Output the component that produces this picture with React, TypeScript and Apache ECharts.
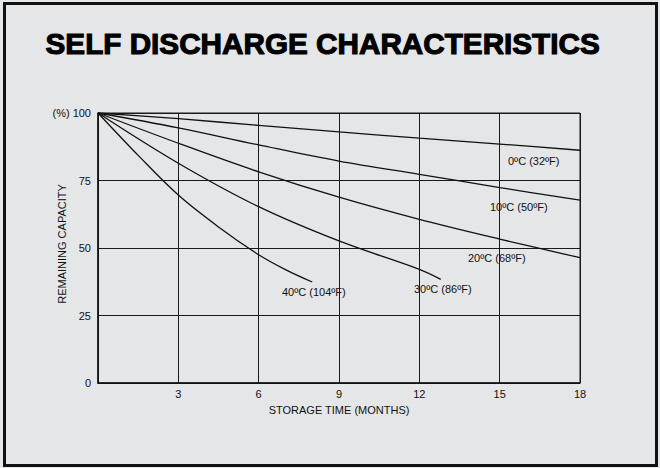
import React, { useEffect, useRef } from "react";
import * as echarts from "echarts";

const xTicks = [0, 3, 6, 9, 12, 15, 18];
const yTicks = [0, 25, 50, 75, 100];

const months0 = [0, 3, 6, 9, 12, 15, 18];
const cap0 = [100, 97.9, 95.4, 93.0, 90.7, 88.5, 86.2];
const months10 = [0, 3, 6, 9, 12, 15, 18];
const cap10 = [100, 94.5, 88.2, 82.2, 77.3, 72.4, 67.7];
const months20 = [0, 3, 6, 9, 12, 15, 18];
const cap20 = [100, 88.8, 78.2, 68.8, 60.6, 53.3, 46.4];
const months30 = [0, 3, 6, 9, 12, 12.8];
const cap30 = [100, 81.4, 65.3, 52.6, 42.1, 38.4];
const months40 = [0, 1.5, 3, 4.5, 6, 7, 8];
const cap40 = [100, 84.3, 69.6, 57.8, 47.5, 42, 37.4];

const seriesNames = ["0ºC (32ºF)", "10ºC (50ºF)", "20ºC (68ºF)", "30ºC (86ºF)", "40ºC (104ºF)"];
const seriesMonths = [months0, months10, months20, months30, months40];
const seriesCaps = [cap0, cap10, cap20, cap30, cap40];
// label anchor positions (pixels: left, vertical centre)
const labelPos = [
  [508, 161],
  [490, 207],
  [468, 258],
  [414, 289],
  [282, 292],
];

const FONT = "'Liberation Sans', Arial, Helvetica, sans-serif";

export default function App() {
  const ref = useRef<HTMLDivElement>(null);
  useEffect(() => {
    if (!ref.current) return;
    const chart = echarts.init(ref.current, null, { renderer: "svg" });
    const option: any = {
      animation: false,
      backgroundColor: "#e5e6e8",
      textStyle: { fontFamily: FONT },
      grid: {
        left: 98,
        right: 80,
        top: 113,
        bottom: 85,
        show: true,
        borderColor: "#1a1a1a",
        borderWidth: 1,
        backgroundColor: "transparent",
      },
      xAxis: {
        type: "value",
        min: xTicks[0],
        max: xTicks[xTicks.length - 1],
        interval: 3,
        name: "STORAGE TIME (MONTHS)",
        nameLocation: "middle",
        nameGap: 21,
        nameTextStyle: { fontSize: 11, color: "#111", fontFamily: FONT },
        axisLine: { show: true, lineStyle: { color: "#111", width: 1.5 } },
        axisTick: { show: false },
        axisLabel: {
          margin: 5,
          fontSize: 11,
          color: "#111",
          fontFamily: FONT,
          formatter: (v: number) => (v === 0 ? "" : String(v)),
        },
        splitLine: { show: true, lineStyle: { color: "#1a1a1a", width: 1 } },
      },
      yAxis: {
        type: "value",
        min: yTicks[0],
        max: yTicks[yTicks.length - 1],
        interval: 25,
        axisLine: { show: true, lineStyle: { color: "#111", width: 1.5 } },
        axisTick: { show: false },
        axisLabel: {
          margin: 7,
          fontSize: 11,
          color: "#111",
          fontFamily: FONT,
          formatter: (v: number) => (v === 100 ? "(%) 100" : String(v)),
        },
        splitLine: { show: true, lineStyle: { color: "#1a1a1a", width: 1 } },
      },
      series: seriesNames.map((name, i) => ({
        name,
        type: "line",
        smooth: 0.35,
        showSymbol: false,
        symbol: "none",
        lineStyle: { color: "#111", width: 1.3 },
        data: seriesMonths[i].map((m, j) => [m, seriesCaps[i][j]]),
      })),
      graphic: [
        {
          type: "rect",
          shape: { x: 4.5, y: 3.5, width: 652, height: 462 },
          style: { fill: "transparent", stroke: "#111", lineWidth: 3 },
          z: -1,
        },
        {
          type: "text",
          left: 45,
          top: 28,
          style: {
            text: "SELF DISCHARGE CHARACTERISTICS",
            fontSize: 29.7,
            fontWeight: "bold",
            fontFamily: FONT,
            fill: "#000",
            stroke: "#000",
            lineWidth: 1.1,
          },
        },
        {
          type: "text",
          x: 62,
          y: 244,
          rotation: Math.PI / 2,
          style: {
            text: "REMAINING CAPACITY",
            fontSize: 11,
            fontFamily: FONT,
            fill: "#111",
            align: "center",
            verticalAlign: "middle",
          },
        },
        ...seriesNames.map((name, i) => ({
          type: "text",
          x: labelPos[i][0],
          y: labelPos[i][1],
          style: {
            text: name,
            fontSize: 11,
            fontFamily: FONT,
            fill: "#111",
            verticalAlign: "middle",
            align: "left",
          },
        })),
      ],
    };
    chart.setOption(option);
    return () => chart.dispose();
  }, []);
  return (
    <div
      ref={ref}
      style={{ position: "fixed", left: 0, top: 0, width: 660, height: 468 }}
    />
  );
}
